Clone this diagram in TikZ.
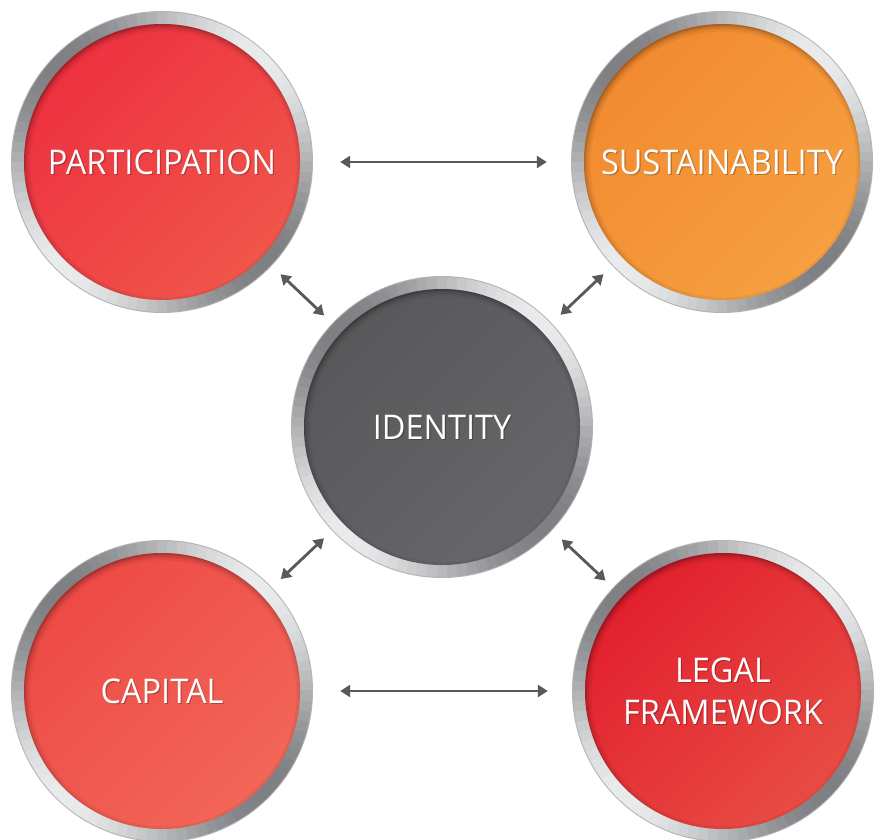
\documentclass[tikz,border=0pt]{standalone}
\usepackage{fontspec}
\setmainfont{Open Sans}[FakeStretch=0.955]
\usetikzlibrary{arrows.meta}
\definecolor{arrowc}{HTML}{58595B}
\definecolor{ringlight}{HTML}{EAEBEC}
\definecolor{ringdark}{HTML}{7E8083}
\definecolor{partA}{HTML}{EE3140}
\definecolor{partB}{HTML}{F0554A}
\definecolor{sustA}{HTML}{F28A30}
\definecolor{sustB}{HTML}{F6A040}
\definecolor{idA}{HTML}{58585B}
\definecolor{idB}{HTML}{67676A}
\definecolor{capA}{HTML}{EE4A45}
\definecolor{capB}{HTML}{F26658}
\definecolor{legA}{HTML}{E2202E}
\definecolor{legB}{HTML}{E84B43}
\tikzset{
  holder/.style={circle, minimum size=300pt, inner sep=0pt},
  lbl/.style={text=white, font=\fontsize{34}{42}\selectfont, align=center},
  lblshadow/.style={text=black, opacity=0.25, font=\fontsize{34}{42}\selectfont, align=center},
  biarrow/.style={{Triangle[length=10pt,width=12pt]}-{Triangle[length=10pt,width=12pt]}, line width=2.8pt, draw=arrowc},
}
\newcommand\ringdisk[6]{%
  \node[holder] (#1) at (#2,#3) {};
  \begin{scope}[shift={(#2,#3)}]
    \fill[ringdark!60!white] (0,0) circle[radius=151];
    \foreach \a in {0,4,...,356}{
      \pgfmathtruncatemacro\m{50+50*cos(2*(\a-45))}
      \pgfmathsetmacro\e{\a+4.4}
      \fill[ringlight!\m!ringdark] (\a:150) arc[start angle=\a, end angle=\e, radius=150]
        -- (\e:137) arc[start angle=\e, end angle=\a, radius=137] -- cycle;
    }
    \shade[top color=#4, bottom color=#5, shading angle=45] (0,0) circle[radius=138];
    \begin{scope}
      \clip (0,0) circle[radius=138];
      \foreach \w/\o in {16/0.05, 11/0.07, 7/0.09, 4/0.12}
        \draw[line width=\w pt, black, opacity=\o] (1.5,-2.5) circle[radius=141];
    \end{scope}
    \node[lblshadow] at (1.2,-1.6) {#6};
    \node[lbl] at (0,0) {#6};
  \end{scope}
}
\begin{document}
\begin{tikzpicture}[x=1pt,y=1pt]
  \useasboundingbox (0,0) rectangle (882,839);
  \fill[white] (0,0) rectangle (882,839);
  \ringdisk{part}{162}{677}{partA}{partB}{PARTICIPATION}
  \ringdisk{sust}{722}{677}{sustA}{sustB}{SUSTAINABILITY}
  \ringdisk{iden}{442}{412}{idA}{idB}{IDENTITY}
  \ringdisk{capi}{162}{148}{capA}{capB}{CAPITAL}
  \ringdisk{lega}{723}{148}{legA}{legB}{LEGAL\\FRAMEWORK}
  \draw[biarrow, shorten <=28pt, shorten >=25pt] (part) -- (sust);
  \draw[biarrow, shorten <=28pt, shorten >=25pt] (capi) -- (lega);
  \draw[biarrow, shorten <=13pt, shorten >=12pt] (part) -- (iden);
  \draw[biarrow, shorten <=13pt, shorten >=13pt] (sust) -- (iden);
  \draw[biarrow, shorten <=12pt, shorten >=13pt] (iden) -- (capi);
  \draw[biarrow, shorten <=14pt, shorten >=11pt] (iden) -- (lega);
\end{tikzpicture}
\end{document}
